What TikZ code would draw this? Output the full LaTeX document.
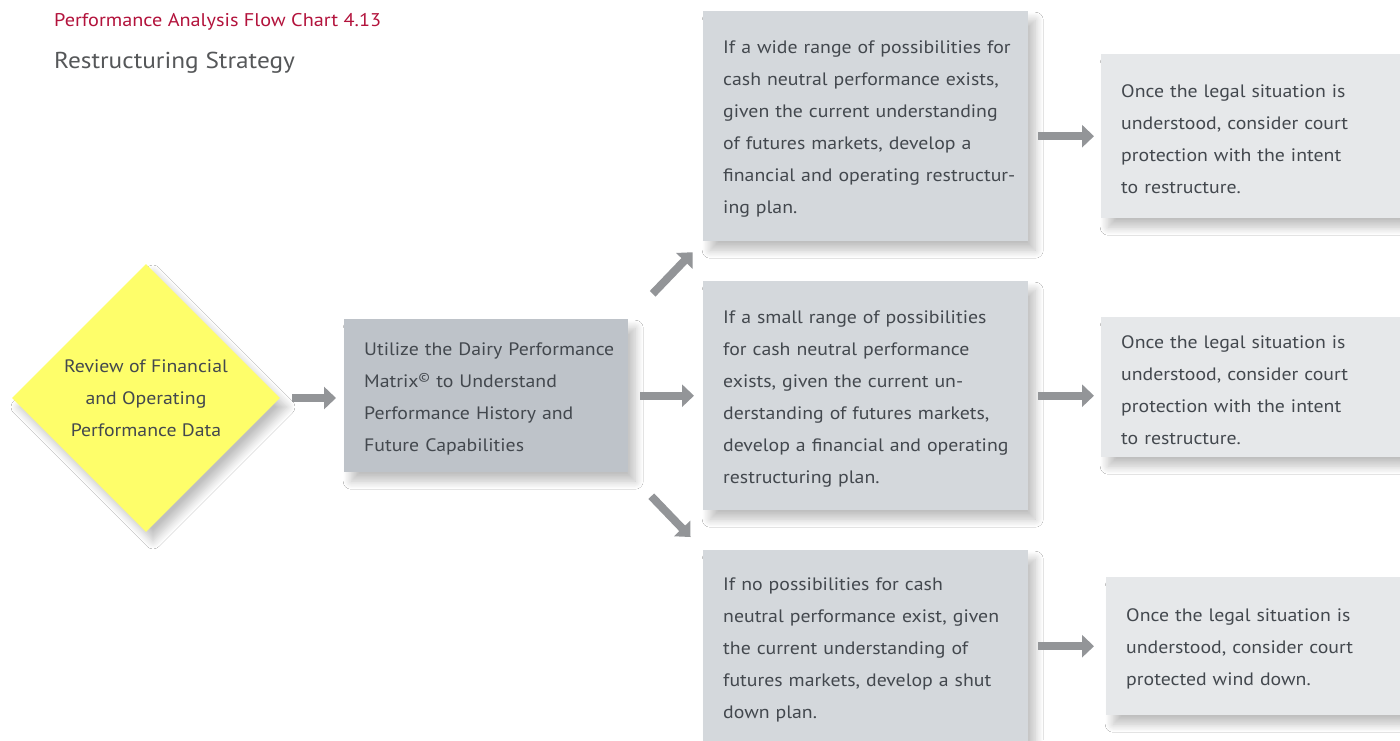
\documentclass[tikz,border=0pt]{standalone}
\usepackage{fontspec}
\setmainfont{PT Sans}[FakeStretch=1.1]
\usetikzlibrary{shapes.geometric,arrows.meta,shadows.blur}

\definecolor{titlered}{HTML}{B3133C}
\definecolor{subgray}{HTML}{555759}
\definecolor{txtgray}{HTML}{43484E}
\definecolor{arrowgray}{HTML}{939598}
\definecolor{boxdark}{HTML}{BEC3C9}
\definecolor{boxmid}{HTML}{D4D8DC}
\definecolor{boxlight}{HTML}{E6E8EA}
\definecolor{diayellow}{HTML}{FEFE6A}

\tikzset{
  softshadow/.style={blur shadow={shadow xshift=7pt, shadow yshift=-9pt,
    shadow blur radius=8pt, shadow blur steps=14, shadow opacity=25}},
  flowbox/.style={rectangle, anchor=north west, inner xsep=20pt, inner ysep=0pt,
    align=left, text=txtgray, font=\fontsize{18}{32}\selectfont, softshadow,
    execute at begin node={\rightskip=0pt plus 1fil minus 30pt\rule{0pt}{19pt}}},
  flowarrow/.style={draw=arrowgray, line width=8pt, -{Triangle[length=12pt,width=22pt]}}
}

\begin{document}
\begin{tikzpicture}[x=1pt, y=1pt]
  \useasboundingbox[fill=white] (0,0) rectangle (1400,-740);

  \node[anchor=base west, inner sep=0pt, text=titlered, font=\fontsize{18.4}{22}\selectfont] (title) at (54,-26) {Performance Analysis Flow Chart 4.13};
  \node[anchor=base west, inner sep=0pt, text=subgray, font=\fontsize{23}{28}\selectfont] (subtitle) at (54,-68) {Restructuring Strategy};

  \node[diamond, aspect=1, minimum width=268pt, minimum height=268pt, inner sep=0pt,
    fill=diayellow, align=center, text=txtgray, font=\fontsize{18}{32}\selectfont, softshadow]
    (review) at (146,-398) {Review of Financial\\ and Operating\\ Performance Data};

  \node[flowbox, fill=boxdark, text width=244pt, minimum height=153pt] (matrix) at (344,-319)
    {Utilize the Dairy Performance\\ Matrix\textsuperscript{\textcopyright} to Understand\\ Performance History and\\ Future Capabilities};

  \node[flowbox, fill=boxmid, text width=285pt, minimum height=230pt] (wide) at (703,-11)
    {If a wide range of possibilities for\\ cash neutral performance exists,\\ given the current understanding\\ of futures markets, develop a\\ financial and operating restructur-\\ ing plan.};
  \node[flowbox, fill=boxmid, text width=285pt, minimum height=229pt] (small) at (703,-281)
    {If a small range of possibilities\\ for cash neutral performance\\ exists, given the current un-\\ derstanding of futures markets,\\ develop a financial and operating\\ restructuring plan.};
  \node[flowbox, fill=boxmid, text width=285pt, minimum height=194pt] (none) at (703,-550)
    {If no possibilities for cash\\ neutral performance exist, given\\ the current understanding of\\ futures markets, develop a shut\\ down plan.};

  \node[flowbox, fill=boxlight, text width=280pt, minimum height=164pt] (courtA) at (1101,-54)
    {Once the legal situation is\\ understood, consider court\\ protection with the intent\\ to restructure.};
  \node[flowbox, fill=boxlight, text width=280pt, minimum height=140pt] (courtB) at (1101,-317)
    {Once the legal situation is\\ understood, consider court\\ protection with the intent\\ to restructure.};
  \node[flowbox, fill=boxlight, text width=280pt, minimum height=138pt] (courtC) at (1106,-577)
    {Once the legal situation is\\ understood, consider court\\ protected wind down.};

  \draw[flowarrow, shorten <=12pt, shorten >=8pt] (review.east) -- (review.east -| matrix.west);
  \draw[flowarrow, shorten <=12pt, shorten >=9pt] (matrix.east) -- (matrix.east -| small.west);
  \draw[flowarrow, shorten <=35pt, shorten >=15pt] (matrix.north east) -- (wide.south west);
  \draw[flowarrow, shorten <=33pt, shorten >=18pt] (matrix.south east) -- (none.north west);

  \draw[flowarrow, shorten <=10pt, shorten >=7pt] (wide.east |- courtA.west) -- (courtA.west);
  \draw[flowarrow, shorten <=10pt, shorten >=7pt] (small.east) -- (small.east -| courtB.west);
  \draw[flowarrow, shorten <=10pt, shorten >=12pt] (none.east |- courtC.west) -- (courtC.west);
\end{tikzpicture}
\end{document}
